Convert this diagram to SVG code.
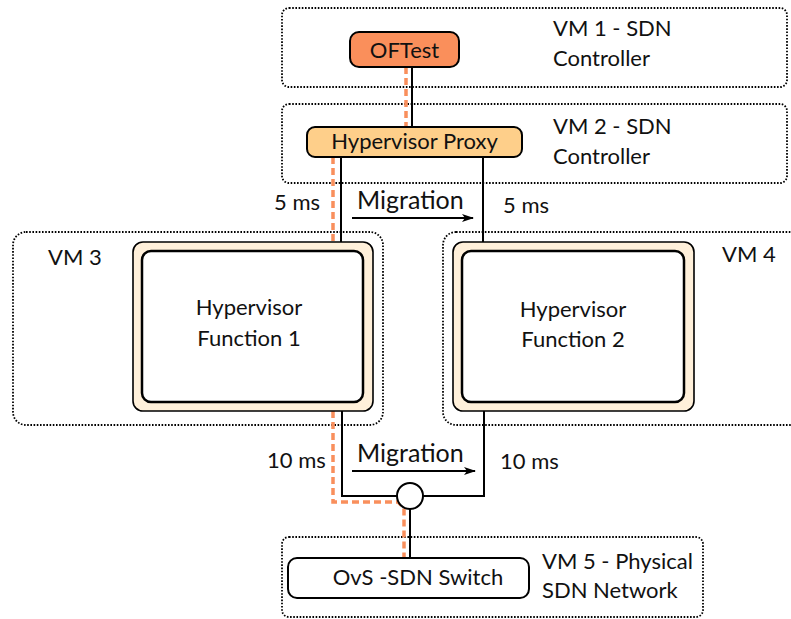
<svg xmlns="http://www.w3.org/2000/svg" width="791" height="619" viewBox="0 0 791 619">
<defs>
<style>
.vm{fill:none;stroke:#000;stroke-width:1.8;stroke-dasharray:1.6 1.6}
.t{font-family:Lato,"Noto Sans",sans-serif;font-size:22px;fill:#111}
.m{font-size:25px}
.c{text-anchor:middle}
.blk{fill:none;stroke:#000;stroke-width:2}
.org{fill:none;stroke:#F98F5C;stroke-width:3.5;stroke-dasharray:7 4}
.outer{fill:#FFF0DA;stroke:#000;stroke-width:1.6}
.inner{fill:#fff;stroke:#000;stroke-width:2.5}
</style>
<marker id="ah" markerWidth="12" markerHeight="10" refX="11" refY="5" orient="auto" markerUnits="userSpaceOnUse">
<path d="M0,1 L12,5 L0,9 L3,5 Z" fill="#000"/>
</marker>
</defs>
<rect width="791" height="619" fill="#fff"/>
<g id="vm1"><rect class="vm" x="282" y="8" width="505" height="79" rx="7"/><text class="t" x="553" y="36">VM 1 - SDN</text><text class="t" x="553" y="66">Controller</text></g>
<g id="vm2"><rect class="vm" x="282" y="104" width="505" height="79" rx="7"/><text class="t" x="553" y="134">VM 2 - SDN</text><text class="t" x="553" y="164">Controller</text></g>
<g id="vm3"><rect class="vm" x="13" y="232" width="370" height="193" rx="13"/><text class="t" x="48" y="265">VM 3</text></g>
<g id="vm4"><rect class="vm" x="443" y="232" width="360" height="193" rx="13"/><text class="t" x="722" y="262">VM 4</text></g>
<g id="vm5"><rect class="vm" x="282" y="537" width="421" height="80" rx="7"/><text class="t" x="542" y="569">VM 5 - Physical</text><text class="t" x="542" y="598">SDN Network</text></g>
<g id="connectors">
<line class="blk" x1="412" y1="67" x2="412" y2="127"/>
<line class="org" x1="406" y1="67" x2="406" y2="127"/>
<line class="blk" x1="341" y1="157" x2="341" y2="242"/>
<line class="org" x1="333" y1="157" x2="333" y2="242"/>
<line class="blk" x1="483" y1="157" x2="483" y2="242"/>
<polyline class="blk" points="342,411 342,496 397,496"/>
<polyline class="blk" points="484,411 484,496 423,496"/>
<line class="blk" x1="410" y1="509" x2="410" y2="558"/>
<polyline class="org" points="333,411 333,502 398,502 404,508 404,558"/>
<line x1="352" y1="218" x2="473" y2="218" stroke="#000" stroke-width="2" marker-end="url(#ah)"/>
<line x1="352" y1="471" x2="475" y2="471" stroke="#000" stroke-width="2" marker-end="url(#ah)"/>
<circle cx="410" cy="496" r="13" fill="#fff" stroke="#000" stroke-width="2"/>
<text class="t" x="274" y="210">5 ms</text>
<text class="t" x="503" y="213">5 ms</text>
<text class="t m" x="357" y="209">Migration</text>
<text class="t" x="267" y="468">10 ms</text>
<text class="t" x="500" y="469">10 ms</text>
<text class="t m" x="357" y="462">Migration</text>
</g>
<g id="oftest"><rect x="350" y="32" width="109" height="35" rx="9" fill="#FA8F5B" stroke="#000" stroke-width="2"/><text class="t c" x="404.5" y="58">OFTest</text></g>
<g id="proxy"><rect x="307" y="127" width="215" height="30" rx="8" fill="#FECF8A" stroke="#000" stroke-width="2"/><text class="t c" x="414.5" y="149">Hypervisor Proxy</text></g>
<g id="hf1"><rect class="outer" x="133" y="242" width="240" height="169" rx="10"/><rect class="inner" x="142" y="251" width="221" height="151" rx="9"/><text class="t c" x="249" y="315">Hypervisor</text><text class="t c" x="249" y="346">Function 1</text></g>
<g id="hf2"><rect class="outer" x="453" y="242" width="241" height="169" rx="10"/><rect class="inner" x="462" y="251" width="222" height="151" rx="9"/><text class="t c" x="573" y="317">Hypervisor</text><text class="t c" x="573" y="347">Function 2</text></g>
<g id="switch"><rect x="288" y="558" width="241" height="40" rx="9" fill="#fff" stroke="#000" stroke-width="2"/><text class="t c" x="418" y="585">OvS -SDN Switch</text></g>
</svg>
